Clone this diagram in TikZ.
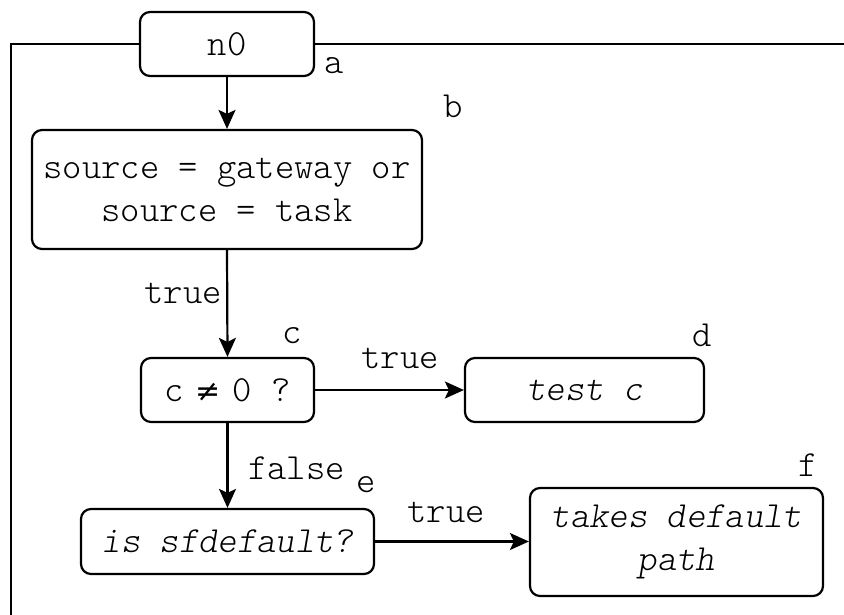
\documentclass[tikz,border=0pt]{standalone}
\usepackage{fontspec}
\setmainfont{Latin Modern Mono Light}
\newfontfamily\symf{DejaVu Sans}
\usetikzlibrary{arrows.meta}
\begin{document}
\begin{tikzpicture}[x=1pt,y=-1pt,
  box/.style={draw,line width=2.2pt,rounded corners=10pt,inner sep=0pt,align=center,
    font=\fontsize{36.8}{43}\selectfont},
  lbl/.style={inner sep=0pt,font=\fontsize{36.8}{43}\selectfont},
  arr/.style={line width=2.2pt,-{Stealth[length=19pt,width=17pt,inset=4pt]}},
  wire/.style={line width=2.2pt}]
\useasboundingbox (0,0) rectangle (844,614);
\clip (0,0) rectangle (844,614);
\node[box,minimum width=174pt,minimum height=64pt] (n0) at (227,44) {n0};
\node[box,minimum width=390pt,minimum height=119pt] (b) at (227,189.5) {source = gateway or\\source = task};
\node[box,minimum width=173pt,minimum height=64pt] (c) at (227.5,390) {c \makebox[10pt]{\symf\fontsize{30}{30}\selectfont ≠} 0 ?};
\node[box,minimum width=239pt,minimum height=64pt] (d) at (584.5,390) {\itshape test c};
\node[box,minimum width=293pt,minimum height=65pt] (e) at (227.5,541.5) {\itshape is sfdefault?};
\node[box,minimum width=293pt,minimum height=108pt] (f) at (676.5,542) {\itshape takes default\\\itshape path};
\coordinate (tl) at (11,44);
\coordinate (bl) at (11,640);
\coordinate (tr) at (860,44);
\draw[wire] (n0.west) -- (tl) -- (bl);
\draw[wire] (n0.east) -- (tr);
\draw[arr] (n0.south) -- (b.north);
\draw[arr] (b.south) -- (c.north);
\draw[arr] (c.east) -- (d.west);
\draw[arr] (c.south) -- (e.north);
\draw[arr] (e.east) -- (f.west |- e.east);
\node[lbl] (la) at (334,66) {a};
\node[lbl] (lb) at (453,106) {b};
\node[lbl] (lc) at (292,336) {c};
\node[lbl] (ld) at (702,335) {d};
\node[lbl] (le) at (366,485) {e};
\node[lbl] (lf) at (808,465) {f};
\node[lbl,anchor=east] (t1) at (222,293) {true};
\node[lbl] (t2) at (400,358) {true};
\node[lbl,anchor=west] (fa) at (248,468) {false};
\node[lbl] (t3) at (446,512) {true};
\end{tikzpicture}
\end{document}
